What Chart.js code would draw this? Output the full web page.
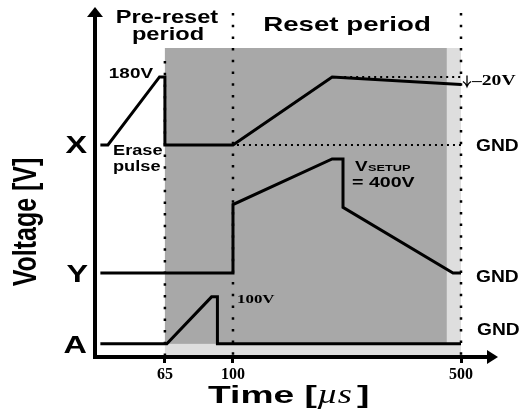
<!DOCTYPE html>
<html>
<head>
<meta charset="utf-8">
<script src="https://cdn.jsdelivr.net/npm/chart.js@4.4.1/dist/chart.umd.min.js"></script>
<style>
  html, body { margin: 0; padding: 0; background: #fff; }
  canvas { display: block; }
</style>
</head>
<body>
<canvas id="myChart" width="523" height="415"></canvas>
<script>
// time axis ticks (µs) - the axis is drawn not to scale
const timeTicks = [65, 100, 500];

// X electrode: erase pulse, then ramp up and slow fall by 20V
const xTime = [5, 12, 60, 65, 65, 100, 274, 500];
const xVolt = [0, 0, 180, 180, 0, 0, 180, 160];

// Y electrode: setup ramp to Vsetup and ramp-down back to GND
const yTime = [5, 100, 100, 274, 293, 293, 486, 500];
const yVolt = [0, 0, 240, 400, 400, 230, 0, 0];

// A electrode: 100V pre-reset pulse
const aTime = [5, 66, 89, 92, 92, 500];
const aVolt = [0, 0, 100, 100, 0, 0];

// piecewise time axis: where 0 / 65 / 100 / 500 µs sit along the width
const timeStops = [0, 65, 100, 500];
const timeFracs = [0, 0.191, 0.377, 1];

const SANS = '"Liberation Sans", Arial, sans-serif';
const SERIF = '"Liberation Serif", "Times New Roman", serif';

const lerpStops = (v, from, to) => {
  if (v <= from[0]) return to[0];
  for (let i = 1; i < from.length; i++) {
    if (v <= from[i]) {
      const t = (v - from[i - 1]) / (from[i] - from[i - 1]);
      return to[i - 1] + t * (to[i] - to[i - 1]);
    }
  }
  return to[to.length - 1];
};

class BrokenTimeScale extends Chart.LinearScale {
  getPixelForValue(value) {
    return this.left + lerpStops(value, timeStops, timeFracs) * this.width;
  }
  getValueForPixel(pixel) {
    return lerpStops((pixel - this.left) / this.width, timeFracs, timeStops);
  }
}
BrokenTimeScale.id = 'brokenTime';
BrokenTimeScale.defaults = Chart.LinearScale.defaults;
Chart.register(BrokenTimeScale);

const toPoints = (ts, vs) => ts.map((t, i) => ({x: t, y: vs[i]}));

const trace = (label, ts, vs, axis) => ({
  label,
  data: toPoints(ts, vs),
  yAxisID: axis,
  borderColor: '#000',
  borderWidth: 3,
  pointRadius: 0,
  tension: 0,
  fill: false,
  borderJoinStyle: 'miter'
});

const stretchText = (ctx, str, x, y, font, align = 'left', sx = 1.35) => {
  ctx.save();
  ctx.font = font;
  ctx.textAlign = align;
  ctx.textBaseline = 'alphabetic';
  ctx.fillStyle = '#000';
  ctx.translate(x, y);
  ctx.scale(sx, 1);
  ctx.fillText(str, 0, 0);
  ctx.restore();
};

const dotted = (ctx, x1, y1, x2, y2, width, dash) => {
  ctx.save();
  ctx.strokeStyle = '#000';
  ctx.lineWidth = width;
  ctx.setLineDash(dash);
  ctx.beginPath();
  ctx.moveTo(x1, y1);
  ctx.lineTo(x2, y2);
  ctx.stroke();
  ctx.restore();
};

const schematic = {
  id: 'schematic',
  beforeDatasetsDraw(chart) {
    const {ctx, chartArea: area, scales} = chart;
    const x = scales.x, yX = scales.yX, yA = scales.yA;
    const left = x.getPixelForValue(65);
    const fade = x.getPixelForValue(475);
    const right = x.getPixelForValue(500);
    const top = area.top + 41;
    const aZero = yA.getPixelForValue(0);

    // reset period shading
    ctx.save();
    ctx.fillStyle = '#dedede';
    ctx.fillRect(left, top, right - left, area.bottom - top);
    ctx.fillStyle = '#a8a8a8';
    ctx.fillRect(left, top, fade - left, aZero - top);
    ctx.restore();

    // period boundaries
    const x100 = x.getPixelForValue(100);
    dotted(ctx, left, area.top + 54, left, area.bottom, 2.5, [2.5, 9.2]);
    dotted(ctx, x100, area.top + 6, x100, area.bottom, 2.5, [2.5, 9.2]);
    dotted(ctx, right, area.top + 6, right, area.bottom, 2.5, [2.5, 9.2]);

    // X reference levels: GND and 180V
    dotted(ctx, x100 + 4, yX.getPixelForValue(0), right, yX.getPixelForValue(0), 2, [2, 4]);
    dotted(ctx, x.getPixelForValue(274), yX.getPixelForValue(180), right, yX.getPixelForValue(180), 2, [2, 4]);
  },
  afterDatasetsDraw(chart) {
    const {ctx, chartArea: area, scales} = chart;
    const ox = area.left, oy = area.bottom;

    // axes with arrow heads
    ctx.save();
    ctx.strokeStyle = '#000';
    ctx.fillStyle = '#000';
    ctx.lineWidth = 4;
    ctx.beginPath();
    ctx.moveTo(ox, oy + 2);
    ctx.lineTo(ox, area.top + 8);
    ctx.moveTo(ox - 2, oy);
    ctx.lineTo(area.right + 28, oy);
    ctx.stroke();
    ctx.beginPath();
    ctx.moveTo(ox, area.top);
    ctx.lineTo(ox - 8, area.top + 10);
    ctx.lineTo(ox + 8, area.top + 10);
    ctx.closePath();
    ctx.fill();
    ctx.beginPath();
    ctx.moveTo(area.right + 37, oy);
    ctx.lineTo(area.right + 26, oy - 7);
    ctx.lineTo(area.right + 26, oy + 7);
    ctx.closePath();
    ctx.fill();
    ctx.restore();

    const b = (s) => `bold ${s}px ${SANS}`;
    const sb = (s) => `bold ${s}px ${SERIF}`;
    const zX = scales.yX.getPixelForValue(0);
    const zY = scales.yY.getPixelForValue(0);
    const zA = scales.yA.getPixelForValue(0);
    const endX = scales.yX.getPixelForValue(160);

    // period headings
    stretchText(ctx, 'Pre-reset', 167, 23, b(17.5), 'center');
    stretchText(ctx, 'period', 168, 40, b(17.5), 'center');
    stretchText(ctx, 'Reset period', 347, 31, b(20.5), 'center');

    // electrode names
    stretchText(ctx, 'X', 87, zX + 8, b(24), 'right');
    stretchText(ctx, 'Y', 88, zY + 9, b(24), 'right');
    stretchText(ctx, 'A', 87, zA + 9, b(24), 'right');

    // GND markers
    stretchText(ctx, 'GND', 476, zX + 6, b(16), 'left', 1.2);
    stretchText(ctx, 'GND', 476, zY + 9, b(16), 'left', 1.2);
    stretchText(ctx, 'GND', 477, zA - 9, b(16), 'left', 1.2);

    // voltage annotations
    stretchText(ctx, '180V', 153, scales.yX.getPixelForValue(180) + 1, b(14), 'right');
    stretchText(ctx, 'Erase', 113, 155, b(14), 'left', 1.3);
    stretchText(ctx, 'pulse', 113, 171, b(14), 'left', 1.3);
    stretchText(ctx, 'V', 355, 171, b(14), 'left');
    stretchText(ctx, 'SETUP', 368, 171, b(9.8), 'left', 1.3);
    stretchText(ctx, '= 400V', 352, 187, b(14), 'left', 1.4);
    stretchText(ctx, '100V', 237, 303, sb(13), 'left', 1.3);
    stretchText(ctx, '\u201320V', 472, endX + 1, sb(14), 'left', 1.4);

    // small down arrow in front of the -20V drop
    ctx.save();
    ctx.strokeStyle = '#000';
    ctx.lineWidth = 1.3;
    ctx.beginPath();
    ctx.moveTo(467, endX - 9);
    ctx.lineTo(467, endX + 2);
    ctx.moveTo(463, endX - 3);
    ctx.quadraticCurveTo(466, endX - 1, 467, endX + 2);
    ctx.quadraticCurveTo(468, endX - 1, 471, endX - 3);
    ctx.stroke();
    ctx.restore();

    // axis titles
    ctx.save();
    ctx.translate(27, 222);
    ctx.rotate(-Math.PI / 2);
    ctx.scale(1, 1.3);
    ctx.font = b(25);
    ctx.textAlign = 'center';
    ctx.textBaseline = 'middle';
    ctx.fillStyle = '#000';
    ctx.fillText('Voltage [V]', 0, 0);
    ctx.restore();

    ctx.save();
    ctx.fillStyle = '#000';
    ctx.textBaseline = 'alphabetic';
    let tx = 208;
    const ty = 403;
    const part = (str, font, sx) => {
      ctx.save();
      ctx.font = font;
      ctx.translate(tx, ty);
      ctx.scale(sx, 1);
      ctx.fillText(str, 0, 0);
      tx += ctx.measureText(str).width * sx;
      ctx.restore();
    };
    part('Time [', b(24), 1.55);
    part('\u00b5s', `italic 28px ${SERIF}`, 1.3);
    tx += 5;
    part(']', b(24), 1.55);
    ctx.restore();
  }
};

new Chart(document.getElementById('myChart').getContext('2d'), {
  type: 'line',
  data: {
    datasets: [
      trace('X', xTime, xVolt, 'yX'),
      trace('Y', yTime, yVolt, 'yY'),
      trace('A', aTime, aVolt, 'yA')
    ]
  },
  options: {
    responsive: false,
    animation: false,
    layout: { padding: { left: 95, right: 62, top: 7, bottom: 0 } },
    plugins: { legend: { display: false }, tooltip: { enabled: false } },
    scales: {
      x: {
        type: 'brokenTime',
        min: 0,
        max: 500,
        afterBuildTicks: (scale) => { scale.ticks = timeTicks.map(v => ({value: v})); },
        afterFit: (scale) => { scale.height = 58; },
        border: { display: false },
        grid: { drawOnChartArea: false, drawTicks: true, tickLength: 6, color: '#000', lineWidth: 3 },
        ticks: {
          autoSkip: false,
          maxRotation: 0,
          padding: 2,
          color: '#000',
          font: { family: SERIF, weight: 'bold', size: 16 },
          callback: (v) => String(v)
        }
      },
      yX: { display: false, min: -561, max: 365 },
      yY: { display: false, min: -295, max: 933 },
      yA: { display: false, min: -28, max: 717 }
    }
  },
  plugins: [schematic]
});
</script>
</body>
</html>
